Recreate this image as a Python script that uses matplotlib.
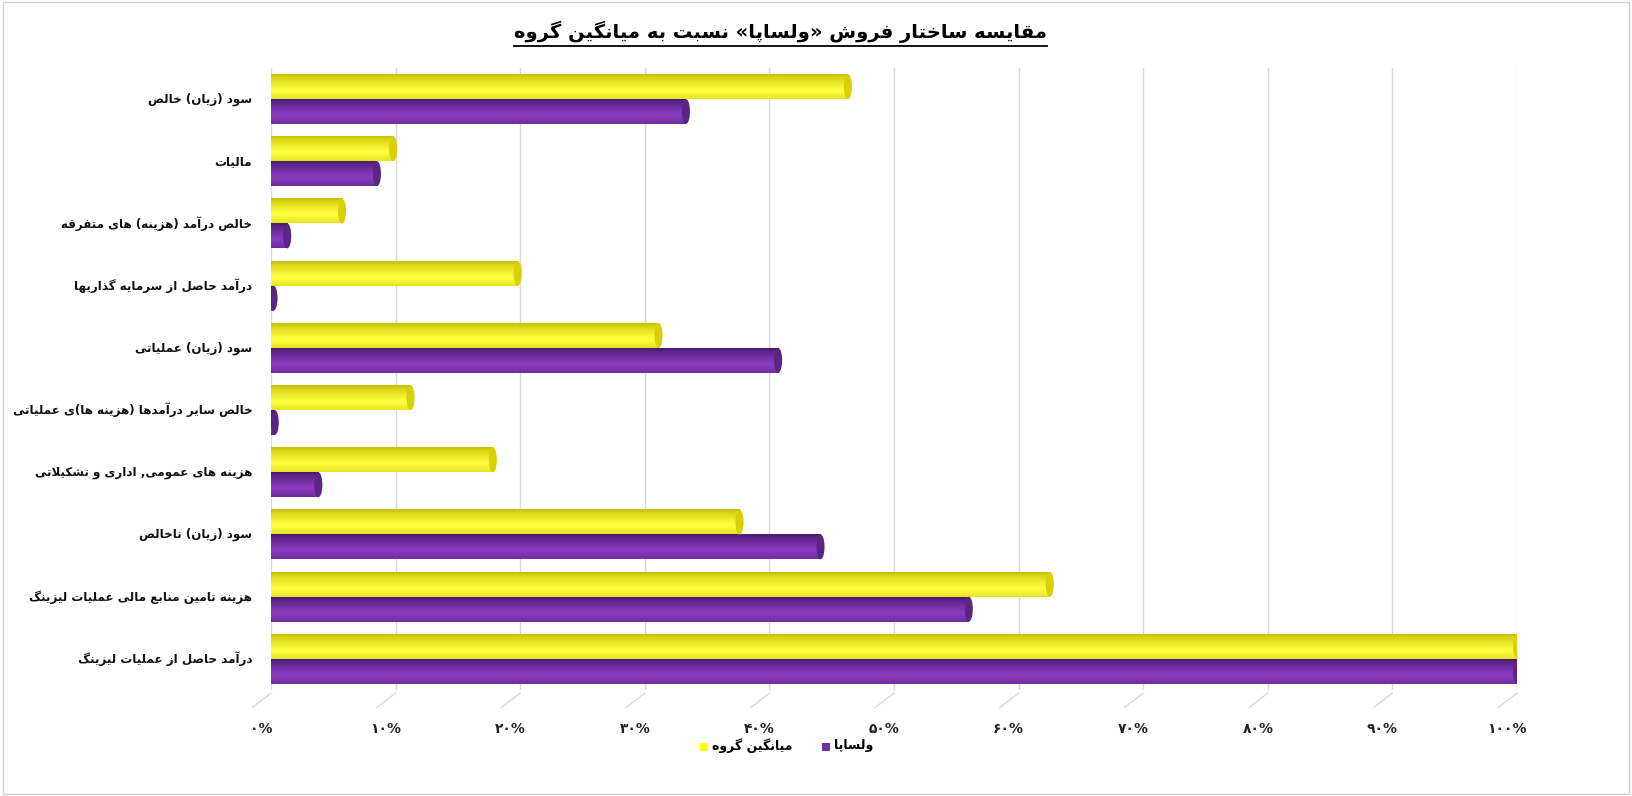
import numpy as np
import matplotlib
matplotlib.use("Agg")
import matplotlib.pyplot as plt
from matplotlib.patches import Ellipse, Rectangle
from matplotlib.lines import Line2D

# ---------------- data ----------------
categories = [
    "درآمد حاصل از عملیات لیزینگ",
    "هزینه تامین منابع مالی عملیات لیزینگ",
    "سود (زیان) ناخالص",
    "هزینه های عمومی, اداری و تشکیلاتی",
    "خالص سایر درآمدها (هزینه ها)ی عملیاتی",
    "سود (زیان) عملیاتی",
    "درآمد حاصل از سرمایه گذاریها",
    "خالص درآمد (هزینه) های متفرقه",
    "مالیات",
    "سود (زیان) خالص",
]
group_avg = [100, 62.5, 37.6, 17.8, 11.2, 31.1, 19.8, 5.7, 9.8, 46.3]
valsapa = [100, 56.0, 44.1, 3.8, 0.3, 40.7, 0.2, 1.3, 8.5, 33.3]
ticks = [0, 10, 20, 30, 40, 50, 60, 70, 80, 90, 100]
title = "مقایسه ساختار فروش «ولساپا» نسبت به میانگین گروه"
legend_labels = ["میانگین گروه", "ولساپا"]

# ---------------- minimal Persian shaping ----------------
F = {  # iso, fin, ini, med
    'ا': (0xFE8D, 0xFE8E, None, None), 'آ': (0xFE81, 0xFE82, None, None),
    'ب': (0xFE8F, 0xFE90, 0xFE91, 0xFE92), 'پ': (0xFB56, 0xFB57, 0xFB58, 0xFB59),
    'ت': (0xFE95, 0xFE96, 0xFE97, 0xFE98), 'ث': (0xFE99, 0xFE9A, 0xFE9B, 0xFE9C),
    'ج': (0xFE9D, 0xFE9E, 0xFE9F, 0xFEA0), 'چ': (0xFB7A, 0xFB7B, 0xFB7C, 0xFB7D),
    'ح': (0xFEA1, 0xFEA2, 0xFEA3, 0xFEA4), 'خ': (0xFEA5, 0xFEA6, 0xFEA7, 0xFEA8),
    'د': (0xFEA9, 0xFEAA, None, None), 'ذ': (0xFEAB, 0xFEAC, None, None),
    'ر': (0xFEAD, 0xFEAE, None, None), 'ز': (0xFEAF, 0xFEB0, None, None),
    'ژ': (0xFB8A, 0xFB8B, None, None),
    'س': (0xFEB1, 0xFEB2, 0xFEB3, 0xFEB4), 'ش': (0xFEB5, 0xFEB6, 0xFEB7, 0xFEB8),
    'ص': (0xFEB9, 0xFEBA, 0xFEBB, 0xFEBC), 'ض': (0xFEBD, 0xFEBE, 0xFEBF, 0xFEC0),
    'ط': (0xFEC1, 0xFEC2, 0xFEC3, 0xFEC4), 'ظ': (0xFEC5, 0xFEC6, 0xFEC7, 0xFEC8),
    'ع': (0xFEC9, 0xFECA, 0xFECB, 0xFECC), 'غ': (0xFECD, 0xFECE, 0xFECF, 0xFED0),
    'ف': (0xFED1, 0xFED2, 0xFED3, 0xFED4), 'ق': (0xFED5, 0xFED6, 0xFED7, 0xFED8),
    'ک': (0xFB8E, 0xFB8F, 0xFB90, 0xFB91), 'گ': (0xFB92, 0xFB93, 0xFB94, 0xFB95),
    'ل': (0xFEDD, 0xFEDE, 0xFEDF, 0xFEE0), 'م': (0xFEE1, 0xFEE2, 0xFEE3, 0xFEE4),
    'ن': (0xFEE5, 0xFEE6, 0xFEE7, 0xFEE8), 'ه': (0xFEE9, 0xFEEA, 0xFEEB, 0xFEEC),
    'و': (0xFEED, 0xFEEE, None, None), 'ی': (0xFBFC, 0xFBFD, 0xFBFE, 0xFBFF),
}
MIRROR = {'(': ')', ')': '(', '«': '»', '»': '«'}

def joins_next(c):
    return c in F and F[c][2] is not None

def shape(s):
    out = []
    n = len(s)
    i = 0
    while i < n:
        c = s[i]
        if c not in F:
            out.append(MIRROR.get(c, c)); i += 1; continue
        prev_j = i > 0 and joins_next(s[i - 1])
        if c == 'ل' and i + 1 < n and s[i + 1] in ('ا', 'آ'):
            out.append(chr(0xFEFC if prev_j else 0xFEFB)); i += 2; continue
        next_j = i + 1 < n and s[i + 1] in F and joins_next(c)
        iso, fin, ini, med = F[c]
        if prev_j and next_j:
            g = med
        elif prev_j:
            g = fin
        elif next_j:
            g = ini
        else:
            g = iso
        out.append(chr(g)); i += 1
    return ''.join(out[::-1])

def fa_digits(v):
    return ''.join(chr(0x06F0 + int(d)) for d in str(v))

FONT = "DejaVu Sans"
plt.rcParams["font.family"] = FONT

# ---------------- figure ----------------
W, H = 1632, 796
fig = plt.figure(figsize=(W / 100, H / 100), dpi=100)
fig.patches.append(Rectangle((0.002, 0.002), 0.996, 0.996, transform=fig.transFigure,
                             fill=False, edgecolor="#d0d0d0", lw=1))
ax = fig.add_axes([271 / W, 1 - 690 / H, (1517 - 271) / W, (690 - 68) / H])
ax.set_xlim(0, 100)
ax.set_ylim(-0.5, len(categories) - 0.5)
for s in ax.spines.values():
    s.set_visible(False)
ax.tick_params(left=False, bottom=False, labelleft=False, labelbottom=False)

for t in ticks:
    ax.axvline(t, color="#d9d9d9", lw=1, zorder=0)
    ax.plot([t - 1.5, t], [-0.78, -0.55], color="#d9d9d9", lw=1, clip_on=False, zorder=0)
    ax.text(t - 0.8, -1.12, fa_digits(t) + "%", ha="center", va="center",
            fontsize=10, fontweight="bold", color="#222")

def gradient(base, dark):
    b = np.array(matplotlib.colors.to_rgb(base))
    d = np.array(matplotlib.colors.to_rgb(dark))
    y = np.linspace(0, 1, 64)
    w = np.clip(1 - np.abs(y - 0.35) * 1.6, 0, 1) ** 0.7
    col = d[None, :] * (1 - w[:, None]) + b[None, :] * w[:, None]
    return col[:, None, :]

bh = 0.4
ylw = gradient("#FFFF40", "#C8C000")
prp = gradient("#8A3CC0", "#4A1A70")
cap_w = 0.65
for i, cat in enumerate(categories):
    for val, yc, grad, capc in ((group_avg[i], i + bh / 2, ylw, "#D8D000"),
                               (valsapa[i], i - bh / 2, prp, "#5A2585")):
        y0, y1 = yc - bh / 2, yc + bh / 2
        if val > 0.05:
            ax.imshow(grad, extent=(0, val, y1, y0), aspect="auto", zorder=2,
                      interpolation="bilinear")
        ax.add_patch(Ellipse((val, yc), cap_w, bh, facecolor=capc, edgecolor="none", zorder=3))
    ax.text(-1.5, i, shape(cat), ha="right", va="center", fontsize=8.6,
            fontweight="bold", color="#111")
ax.set_xlim(0, 100)
ax.set_ylim(-0.5, len(categories) - 0.5)

# title with underline
tt = fig.text(0.478, 1 - 32 / H, shape(title), ha="center", va="center",
              fontsize=14, fontweight="bold")
fig.canvas.draw()
bb = tt.get_window_extent().transformed(fig.transFigure.inverted())
fig.add_artist(Line2D([bb.x0, bb.x1], [bb.y0 - 0.004, bb.y0 - 0.004], color="black",
                      lw=1.3, transform=fig.transFigure))

# legend
ly = 1 - 746 / H
for x, c, lab in ((700, "#FFFF00", legend_labels[0]), (822, "#7030A0", legend_labels[1])):
    fig.patches.append(Rectangle((x / W, ly - 0.006), 8 / W, 8 / H,
                                 transform=fig.transFigure, facecolor=c, edgecolor="none"))
    fig.text((x + 12) / W, ly, shape(lab), ha="left", va="center", fontsize=9,
             fontweight="bold")

fig.savefig("out.png", dpi=100)
